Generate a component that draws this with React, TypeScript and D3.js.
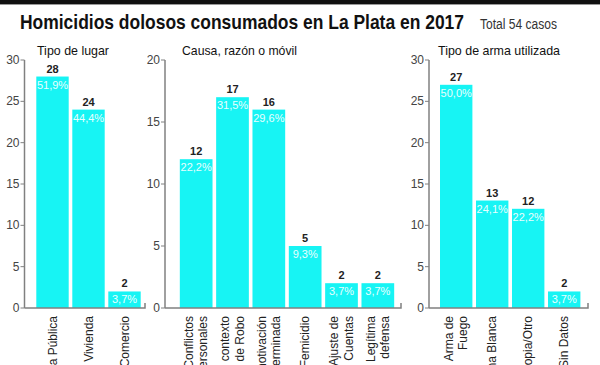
import React from "react";
import * as d3 from "d3";

const TITLE = "Homicidios dolosos consumados en La Plata en 2017";
const SUBTITLE = "Total 54 casos";

const lugarTitle = "Tipo de lugar";
const lugarCats = ["Vía Pública", "Vivienda", "Comercio"];
const lugarVals = [28, 24, 2];
const lugarPct = ["51,9%", "44,4%", "3,7%"];
const lugarTicks = [0, 5, 10, 15, 20, 25, 30];

const causaTitle = "Causa, razón o móvil";
const causaCats = [
  ["Conflictos", "Personales"],
  ["En contexto", "de Robo"],
  ["Sin motivación", "determinada"],
  ["Femicidio"],
  ["Ajuste de", "Cuentas"],
  ["Legítima", "defensa"],
];
const causaVals = [12, 17, 16, 5, 2, 2];
const causaPct = ["22,2%", "31,5%", "29,6%", "9,3%", "3,7%", "3,7%"];
const causaTicks = [0, 5, 10, 15, 20];

const armaTitle = "Tipo de arma utilizada";
const armaCats = [["Arma de", "Fuego"], ["Arma Blanca"], ["Fuerza Propia/Otro"], ["Sin Datos"]];
const armaVals = [27, 13, 12, 2];
const armaPct = ["50,0%", "24,1%", "22,2%", "3,7%"];
const armaTicks = [0, 5, 10, 15, 20, 25, 30];

const BAR = "#17f4f4";
const AXIS = "#808080";
const FONT = "'Liberation Sans', Arial, sans-serif";
const NARROW = "'Liberation Sans Narrow', 'Liberation Sans', Arial, sans-serif";

type PanelProps = {
  title: string;
  titleX: number;
  titleW: number;
  cats: string[][];
  vals: number[];
  pct: string[];
  ticks: number[];
  axisX: number;
  endX: number;
  bandR: [number, number];
};

function Panel(p: PanelProps) {
  const max = p.ticks[p.ticks.length - 1];
  const y = d3.scaleLinear().domain([0, max]).range([308, 60]);
  const keys = p.cats.map((c) => c.join(" "));
  const x = d3.scaleBand<string>().domain(keys).range(p.bandR).paddingInner(0.1).paddingOuter(0.05);
  const bw = x.bandwidth();
  return (
    <g>
      <text x={p.titleX} y={55} fontFamily={NARROW} fontSize={13} fill="#111"
        textLength={p.titleW} lengthAdjust="spacingAndGlyphs">{p.title}</text>
      {p.vals.map((v, i) => {
        const bx = x(keys[i])!;
        const cx = bx + bw / 2;
        return (
          <g key={i}>
            <rect x={bx} y={y(v)} width={bw} height={y(0) - y(v)} fill={BAR} />
            <text x={cx} y={y(v) - 4} textAnchor="middle" fontFamily={FONT} fontWeight="bold" fontSize={11} fill="#222">{v}</text>
            <text x={cx} y={y(v) + 12} textAnchor="middle" fontFamily={FONT} fontSize={11} fill="#e8ffff">{p.pct[i]}</text>
            {p.cats[i].map((line, j) => {
              const n = p.cats[i].length;
              const lx = cx + (j - (n - 1) / 2) * 14.5 + 4;
              return (
                <text key={j} transform={`translate(${lx},316) rotate(-90)`} textAnchor="end"
                  fontFamily={FONT} fontSize={12} fill="#222">{line}</text>
              );
            })}
          </g>
        );
      })}
      <line x1={p.axisX} x2={p.axisX} y1={60} y2={308} stroke={AXIS} strokeWidth={1.5} />
      <path d={`M${p.axisX},308H${p.endX}V303`} fill="none" stroke={AXIS} strokeWidth={1.5} />
      {p.ticks.map((t) => (
        <g key={t}>
          <line x1={p.axisX - 4} x2={p.axisX} y1={y(t)} y2={y(t)} stroke={AXIS} strokeWidth={1} />
          <text x={p.axisX - 5} y={y(t) + 4} textAnchor="end" fontFamily={FONT} fontSize={12} fill="#444">{t}</text>
        </g>
      ))}
    </g>
  );
}

export default function App() {
  return (
    <svg width={600} height={365} style={{ position: "absolute", left: 0, top: 0, background: "#fff" }}>
      <rect x={0} y={0} width={600} height={365} fill="#fff" />
      <rect x={0} y={0} width={600} height={4} fill="#111" />
      <line x1={0} x2={600} y1={4.5} y2={4.5} stroke="#999" strokeWidth={1} />
      <text x={20} y={29} fontFamily={NARROW} fontWeight="bold" fontSize={21} fill="#111"
        textLength={444} lengthAdjust="spacingAndGlyphs">{TITLE}</text>
      <text x={480} y={29} fontFamily={NARROW} fontSize={14} fill="#333"
        textLength={77} lengthAdjust="spacingAndGlyphs">{SUBTITLE}</text>
      <Panel title={lugarTitle} titleX={37} titleW={72} cats={lugarCats.map((c) => [c])} vals={lugarVals}
        pct={lugarPct} ticks={lugarTicks} axisX={24.5} endX={145} bandR={[34.5, 142.5]} />
      <Panel title={causaTitle} titleX={182} titleW={115} cats={causaCats} vals={causaVals}
        pct={causaPct} ticks={causaTicks} axisX={165} endX={401} bandR={[178, 396]} />
      <Panel title={armaTitle} titleX={438} titleW={122} cats={armaCats} vals={armaVals}
        pct={armaPct} ticks={armaTicks} axisX={429} endX={588} bandR={[438.2, 582.2]} />
    </svg>
  );
}
